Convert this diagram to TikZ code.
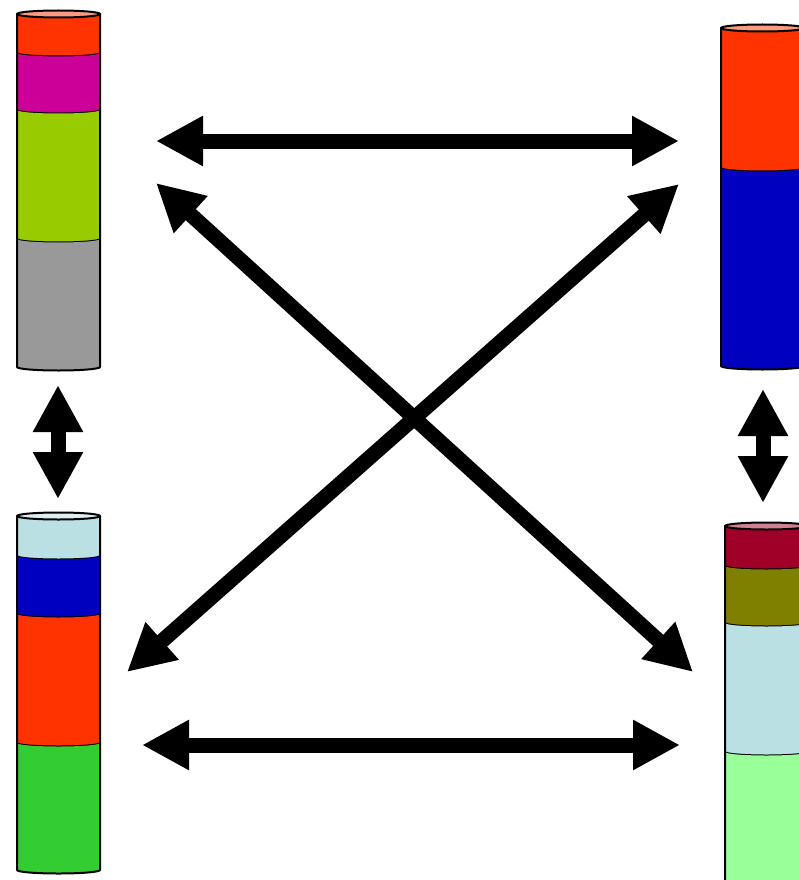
\documentclass[tikz,border=0pt]{standalone}
\usetikzlibrary{arrows.meta}
\definecolor{cRed}{HTML}{FF3300}
\definecolor{cMag}{HTML}{CC0099}
\definecolor{cLime}{HTML}{99CC00}
\definecolor{cGray}{HTML}{999999}
\definecolor{cLBlue}{HTML}{BBE0E3}
\definecolor{cBlue}{HTML}{0000C0}
\definecolor{cGreen}{HTML}{33CC33}
\definecolor{cDRed}{HTML}{A00028}
\definecolor{cOlive}{HTML}{808000}
\definecolor{cLGreen}{HTML}{99FF99}
\tikzset{
  seg/.style={draw=black, line width=2pt, line join=round},
  bigarrow/.style={line width=15pt, {Triangle[length=47pt,width=47pt]}-{Triangle[length=47pt,width=47pt]}},
}
% #1 xl, #2 width, #3 y1, #4 y2, #5 color
\newcommand{\cylseg}[5]{%
  \fill[#5] (#1,#3) -- (#1,#4) arc[start angle=180,end angle=0,x radius=#2/2,y radius=3.5] -- (#1+#2,#3) arc[start angle=0,end angle=180,x radius=#2/2,y radius=3.5] -- cycle;
  \draw[seg] (#1,#3) -- (#1,#4) arc[start angle=180,end angle=0,x radius=#2/2,y radius=3.5] -- (#1+#2,#3);
}
\newcommand{\cyltop}[4]{%
  \draw[seg, fill=#4] (#1+#2/2,#3) ellipse[x radius=#2/2, y radius=3.5];
}
\begin{document}
\begin{tikzpicture}[x=1pt,y=-1pt]
\useasboundingbox (0,0) rectangle (799,880);
\clip (0,0) rectangle (799,880);
% left top cylinder
\cylseg{17}{83}{14}{53}{cRed}
\cylseg{17}{83}{53}{110}{cMag}
\cylseg{17}{83}{110}{239}{cLime}
\cylseg{17}{83}{239}{367}{cGray}
\cyltop{17}{83}{14}{cRed!50!white}
% left bottom cylinder
\cylseg{17}{83}{516}{556}{cLBlue}
\cylseg{17}{83}{556}{614}{cBlue}
\cylseg{17}{83}{614}{743}{cRed}
\cylseg{17}{83}{743}{870}{cGreen}
\cyltop{17}{83}{516}{cLBlue!50!white}
% right top cylinder
\cylseg{721}{83}{28}{168}{cRed}
\cylseg{721}{83}{168}{366}{cBlue}
\cyltop{721}{83}{28}{cRed!50!white}
% right bottom cylinder
\cylseg{725}{83}{526}{566}{cDRed}
\cylseg{725}{83}{566}{623}{cOlive}
\cylseg{725}{83}{623}{752}{cLBlue}
\cylseg{725}{83}{752}{900}{cLGreen}
\cyltop{725}{83}{526}{cDRed!50!white}
% arrow endpoints
\coordinate (lt1) at (156,141);
\coordinate (rt1) at (679,141);
\coordinate (lt2) at (156,183);
\coordinate (rb2) at (693,672);
\coordinate (rt2) at (679,184);
\coordinate (lb2) at (127,672);
\coordinate (lb1) at (142,745);
\coordinate (rb1) at (680,745);
\coordinate (lv1) at (58,385);
\coordinate (lv2) at (58,499);
\coordinate (rv1) at (763,389);
\coordinate (rv2) at (763,503);
\draw[bigarrow] (lt1) -- (rt1);
\draw[bigarrow] (lt2) -- (rb2);
\draw[bigarrow] (rt2) -- (lb2);
\draw[bigarrow] (lb1) -- (rb1);
\draw[bigarrow] (lv1) -- (lv2);
\draw[bigarrow] (rv1) -- (rv2);
\end{tikzpicture}
\end{document}
